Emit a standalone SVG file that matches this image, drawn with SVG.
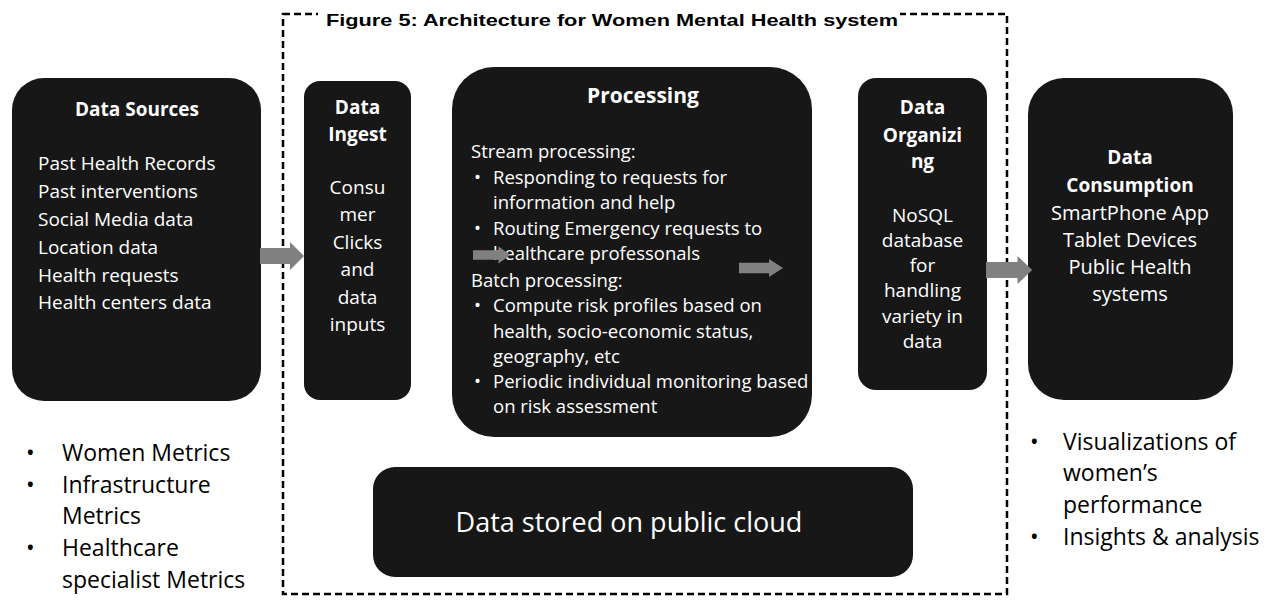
<svg xmlns="http://www.w3.org/2000/svg" width="1270" height="605" viewBox="0 0 1270 605">
<style>
.box{fill:#171717;}
.t{font-family:"Open Sans","Noto Sans",sans-serif;fill:#ffffff;}
.h{font-weight:bold;}
.c{text-anchor:middle;}
.o{font-family:"Open Sans","Noto Sans",sans-serif;fill:#000000;font-size:23px;}
.arrow{fill:#808080;}
</style>
<defs>
<path id="arr" d="M0,-8 H30 V-14 L44,0 L30,14 V8 H0 Z"/>
</defs>
<rect x="0" y="0" width="1270" height="605" fill="#ffffff"/>
<g id="boundary">
<rect x="283" y="14" width="724" height="580" fill="none" stroke="#000" stroke-width="2.5" stroke-dasharray="7 4"/>
<rect x="318" y="4" width="582" height="26" fill="#ffffff"/>
<text x="612" y="26" text-anchor="middle" font-family="'Liberation Sans',Arial,sans-serif" font-weight="bold" font-size="17" textLength="572" lengthAdjust="spacingAndGlyphs" fill="#000">Figure 5: Architecture for Women Mental Health system</text>
</g>
<g id="data-sources">
<rect class="box" x="12" y="78" width="249" height="323" rx="32"/>
<text class="t h c" x="137" y="116" font-size="19">Data Sources</text>
<g class="t" font-size="19">
<text x="38" y="170">Past Health Records</text>
<text x="38" y="198">Past interventions</text>
<text x="38" y="226">Social Media data</text>
<text x="38" y="254">Location data</text>
<text x="38" y="282">Health requests</text>
<text x="38" y="309">Health centers data</text>
</g>
</g>
<g id="data-ingest">
<rect class="box" x="304" y="81" width="107" height="319" rx="16"/>
<text class="t h c" x="357.5" y="114" font-size="19">Data</text>
<text class="t h c" x="357.5" y="141" font-size="19">Ingest</text>
<g class="t c" font-size="19">
<text x="357.5" y="194">Consu</text>
<text x="357.5" y="221">mer</text>
<text x="357.5" y="249">Clicks</text>
<text x="357.5" y="276">and</text>
<text x="357.5" y="304">data</text>
<text x="357.5" y="331">inputs</text>
</g>
</g>
<g id="processing">
<rect class="box" x="452" y="67" width="360" height="370" rx="42"/>
<text class="t h c" x="643" y="103" font-size="21">Processing</text>
<g class="t" font-size="18.5">
<text x="471" y="158">Stream processing:</text>
<text x="474" y="184">•</text><text x="493" y="184">Responding to requests for</text>
<text x="493" y="209">information and help</text>
<text x="474" y="235">•</text><text x="493" y="235">Routing Emergency requests to</text>
<text x="493" y="260">healthcare professonals</text>
<text x="471" y="287">Batch processing:</text>
<text x="474" y="312">•</text><text x="493" y="312">Compute risk profiles based on</text>
<text x="493" y="338">health, socio-economic status,</text>
<text x="493" y="363">geography, etc</text>
<text x="474" y="388">•</text><text x="493" y="388">Periodic individual monitoring based</text>
<text x="493" y="413">on risk assessment</text>
</g>
</g>
<g id="data-organizing">
<rect class="box" x="858" y="78" width="129" height="312" rx="18"/>
<g class="t h c" font-size="19">
<text x="922.5" y="114">Data</text>
<text x="922.5" y="142">Organizi</text>
<text x="922.5" y="168">ng</text>
</g>
<g class="t c" font-size="19">
<text x="922.5" y="222">NoSQL</text>
<text x="922.5" y="247">database</text>
<text x="922.5" y="272">for</text>
<text x="922.5" y="297">handling</text>
<text x="922.5" y="323">variety in</text>
<text x="922.5" y="348">data</text>
</g>
</g>
<g id="data-consumption">
<rect class="box" x="1028" y="78" width="205" height="322" rx="36"/>
<g class="t h c" font-size="19">
<text x="1130" y="164">Data</text>
<text x="1130" y="192">Consumption</text>
</g>
<g class="t c" font-size="20">
<text x="1130" y="220">SmartPhone App</text>
<text x="1130" y="247">Tablet Devices</text>
<text x="1130" y="274">Public Health</text>
<text x="1130" y="301">systems</text>
</g>
</g>
<g id="cloud">
<rect class="box" x="373" y="467" width="540" height="110" rx="22"/>
<text class="t c" x="629" y="532" font-size="27">Data stored on public cloud</text>
</g>
<g id="connectors">
<use href="#arr" class="arrow" transform="translate(260,256)"/>
<use href="#arr" class="arrow" transform="translate(473,255) scale(0.85,0.6)"/>
<use href="#arr" class="arrow" transform="translate(739,268) scale(1,0.65)"/>
<use href="#arr" class="arrow" transform="translate(986,270) scale(1.05,1)"/>
</g>
<g id="left-notes" class="o">
<text x="26" y="461">•</text><text x="62" y="461">Women Metrics</text>
<text x="26" y="493">•</text><text x="62" y="493">Infrastructure</text>
<text x="62" y="524">Metrics</text>
<text x="26" y="556">•</text><text x="62" y="556">Healthcare</text>
<text x="62" y="588">specialist Metrics</text>
</g>
<g id="right-notes" class="o">
<text x="1030" y="450">•</text><text x="1063" y="450">Visualizations of</text>
<text x="1063" y="481">women’s</text>
<text x="1063" y="513">performance</text>
<text x="1030" y="545">•</text><text x="1063" y="545">Insights &amp; analysis</text>
</g>
</svg>
